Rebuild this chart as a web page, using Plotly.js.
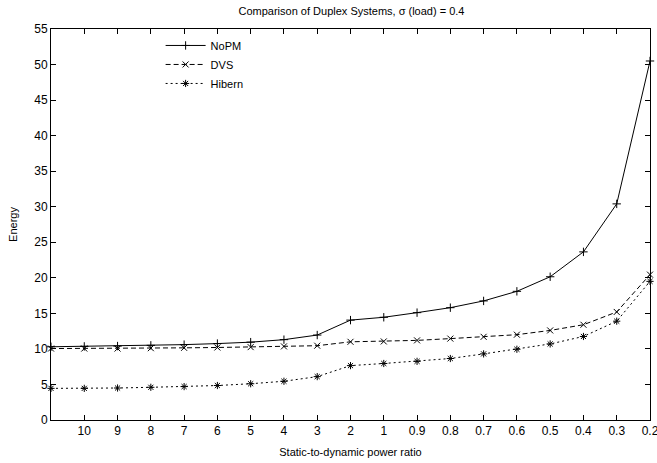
<!DOCTYPE html>
<html>
<head>
<meta charset="utf-8">
<script src="https://cdn.plot.ly/plotly-3.0.1.min.js"></script>
<style>html,body{margin:0;padding:0;background:#fff;}#chart{width:657px;height:463px;}</style>
</head>
<body>
<div id="chart"></div>
<script>
// x positions (index) and their tick labels
const xPos = [0,1,2,3,4,5,6,7,8,9,10,11,12,13,14,15,16,17,18];
const tickPos = [1,2,3,4,5,6,7,8,9,10,11,12,13,14,15,16,17,18];
const tickLabels = ["10","9","8","7","6","5","4","3","2","1","0.9","0.8","0.7","0.6","0.5","0.4","0.3","0.2"];

const seriesNames = ["NoPM","DVS","Hibern"];
const noPM   = [10.3,10.35,10.4,10.5,10.6,10.75,10.95,11.3,11.95,14.05,14.45,15.1,15.8,16.75,18.1,20.15,23.65,30.4,50.5];
const dvs    = [10.05,10.05,10.05,10.1,10.15,10.2,10.25,10.35,10.45,11.0,11.05,11.2,11.45,11.7,12.0,12.6,13.4,15.2,20.45];
const hibern = [4.45,4.45,4.5,4.6,4.7,4.85,5.1,5.45,6.1,7.65,7.95,8.25,8.65,9.3,9.95,10.7,11.75,13.9,19.5];

const font = "Liberation Sans, Arial, Helvetica, sans-serif";
const styles = [
  {dash:"solid",    symbol:"cross-thin-open"},
  {dash:"5px,3px",  symbol:"x-thin-open"},
  {dash:"2px,3px",  symbol:"asterisk-open"}
];
const data = [noPM, dvs, hibern].map((ys, i) => ({
  x: xPos, y: ys, name: seriesNames[i], type: "scatter", mode: "lines+markers",
  line: {color: "#000", width: 1, dash: styles[i].dash},
  marker: {symbol: styles[i].symbol, size: 6, color: "#000", line: {color: "#000", width: 1}},
  cliponaxis: false
}));

const layout = {
  width: 657, height: 463,
  margin: {l: 51, r: 7, t: 29, b: 43},
  paper_bgcolor: "#fff", plot_bgcolor: "#fff",
  font: {family: font, size: 12, color: "#000"},
  title: {text: "Comparison of Duplex Systems, σ (load) = 0.4", font: {size: 11, family: font}, x: 0.535, xanchor: "center", y: 0.976, yanchor: "middle"},
  showlegend: true,
  legend: {x: 0.183, y: 0.995, xanchor: "left", yanchor: "top", bgcolor: "rgba(0,0,0,0)", font: {size: 11}, tracegroupgap: 0, itemwidth: 40},
  xaxis: {
    range: [0, 18], tickmode: "array", tickvals: tickPos, ticktext: tickLabels,
    showgrid: false, zeroline: false, showline: true, linecolor: "#000", linewidth: 1,
    mirror: "allticks", ticks: "inside", ticklen: 5, tickcolor: "#000", ticklabeloverflow: "allow",
    tickfont: {size: 12}, title: {text: "Static-to-dynamic power ratio", font: {size: 11}, standoff: 10}
  },
  yaxis: {
    range: [0, 55], dtick: 5, tick0: 0,
    showgrid: false, zeroline: false, showline: true, linecolor: "#000", linewidth: 1,
    mirror: "allticks", ticks: "inside", ticklen: 5, tickcolor: "#000",
    tickfont: {size: 12}, title: {text: "Energy", font: {size: 11}, standoff: 14}
  }
};
Plotly.newPlot("chart", data, layout, {displayModeBar: false, staticPlot: true});
</script>
</body>
</html>
